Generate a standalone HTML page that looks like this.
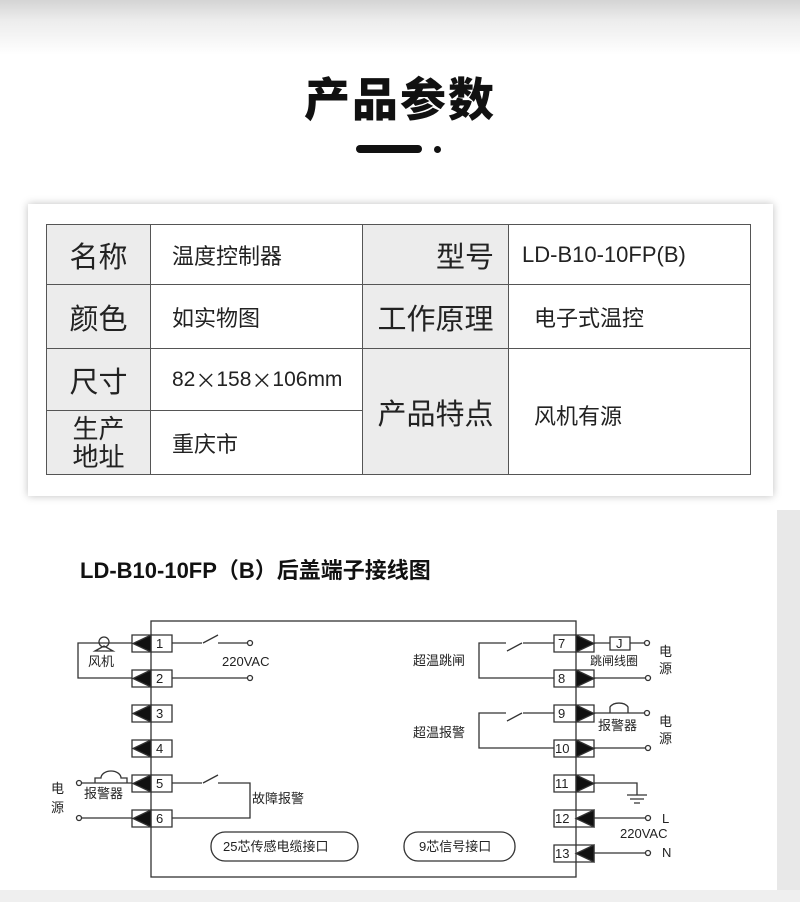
<!DOCTYPE html>
<html><head><meta charset="utf-8"><style>
*{margin:0;padding:0;box-sizing:border-box}
body{width:800px;height:902px;position:relative;overflow:hidden;font-family:"Liberation Sans","Noto Sans CJK SC",sans-serif;background:linear-gradient(#d4d4d4 0px,#ececec 20px,#fff 55px,#fff 100%)}
.a{position:absolute}
.title{left:0;width:800px;top:64px;text-align:center;font-size:46px;font-weight:900;color:#111;letter-spacing:2px}
.card1{left:28px;top:204px;width:745px;height:292px;background:#fff;box-shadow:0 0 8px rgba(0,0,0,.25)}
.c{position:absolute;border:1px solid #555;display:flex;align-items:center;font-size:22px;color:#222}
.g{background:#ececec;font-size:29px;justify-content:center}
.card2{left:28px;top:528px;width:749px;height:362px;background:#fff}
</style></head><body>
<div class="a title">产品参数</div>
<div class="a" style="left:356px;top:145px;width:66px;height:8px;border-radius:4px;background:#111"></div>
<div class="a" style="left:434px;top:146px;width:7px;height:7px;border-radius:50%;background:#111"></div>
<div class="a card1"></div>
<div class="c g" style="left:46px;top:224px;width:105px;height:61px">名称</div>
<div class="c" style="left:150px;top:224px;width:213px;height:61px;padding-left:21px">温度控制器</div>
<div class="c g" style="left:362px;top:224px;width:147px;height:61px;justify-content:flex-end;padding-right:14px">型号</div>
<div class="c" style="left:508px;top:224px;width:243px;height:61px;padding-left:13px">LD-B10-10FP(B)</div>
<div class="c g" style="left:46px;top:284px;width:105px;height:65px">颜色</div>
<div class="c" style="left:150px;top:284px;width:213px;height:65px;padding-left:21px">如实物图</div>
<div class="c g" style="left:362px;top:284px;width:147px;height:65px">工作原理</div>
<div class="c" style="left:508px;top:284px;width:243px;height:65px;padding-left:25px">电子式温控</div>
<div class="c g" style="left:46px;top:348px;width:105px;height:63px">尺寸</div>
<div class="c" style="left:150px;top:348px;width:213px;height:63px;padding-left:21px;font-size:21px">82<span style="font-family:'Noto Sans CJK SC'">×</span>158<span style="font-family:'Noto Sans CJK SC'">×</span>106mm</div>
<div class="c g" style="left:46px;top:410px;width:105px;height:65px;font-size:26px;line-height:28px;text-align:center">生产<br>地址</div>
<div class="c" style="left:150px;top:410px;width:213px;height:65px;padding-left:21px">重庆市</div>
<div class="c g" style="left:362px;top:348px;width:147px;height:127px">产品特点</div>
<div class="c" style="left:508px;top:348px;width:243px;height:127px;padding-left:25px;align-items:flex-start;padding-top:50px">风机有源</div>
<div class="a" style="left:777px;top:510px;width:23px;height:392px;background:#e8e8e8"></div>
<div class="a" style="left:0;top:890px;width:800px;height:12px;background:#efefef"></div>
<div class="a card2"></div>
<div class="a" style="left:80px;top:553px;font-size:22px;font-weight:bold;color:#111">LD-B10-10FP（B）后盖端子接线图</div>
<svg class="a" style="left:0;top:0" width="800" height="902" font-family="Liberation Sans, Noto Sans CJK SC, sans-serif" fill="none" stroke="#333" stroke-width="1.3">
<rect x="151" y="621" width="425" height="256"/>
<g font-size="13" fill="#222" stroke="none">
<text x="156" y="648">1</text><text x="156" y="683">2</text><text x="156" y="718">3</text><text x="156" y="753">4</text><text x="156" y="788">5</text><text x="156" y="823">6</text>
<text x="558" y="648">7</text><text x="558" y="683">8</text><text x="558" y="718">9</text><text x="555" y="753">10</text><text x="555" y="788">11</text><text x="555" y="823">12</text><text x="555" y="858">13</text>
<text x="222" y="666">220VAC</text><text x="88" y="666">风机</text><text x="84" y="798">报警器</text><text x="51" y="793">电</text><text x="51" y="812">源</text>
<text x="252" y="803">故障报警</text><text x="413" y="665">超温跳闸</text><text x="413" y="737">超温报警</text>
<text x="590" y="665" font-size="12">跳闸线圈</text><text x="598" y="730">报警器</text>
<text x="659" y="656">电</text><text x="659" y="673">源</text><text x="659" y="726">电</text><text x="659" y="743">源</text>
<text x="662" y="823">L</text><text x="620" y="838">220VAC</text><text x="662" y="857">N</text>
<text x="223" y="851">25芯传感电缆接口</text><text x="419" y="851">9芯信号接口</text>
<text x="616" y="648">J</text>
</g>
<g fill="#111" stroke="#333">
<path d="M132 635h40v17h-40zM132 670h40v17h-40zM132 705h40v17h-40zM132 740h40v17h-40zM132 775h40v17h-40zM132 810h40v17h-40z" fill="none"/>
<path d="M151 635L133 643.5L151 652zM151 670L133 678.5L151 687zM151 705L133 713.5L151 722zM151 740L133 748.5L151 757zM151 775L133 783.5L151 792zM151 810L133 818.5L151 827z"/>
<path d="M554 635h40v17h-40zM554 670h40v17h-40zM554 705h40v17h-40zM554 740h40v17h-40zM554 775h40v17h-40zM554 810h40v17h-40zM554 845h40v17h-40z" fill="none"/>
<path d="M576 635L594 643.5L576 652zM576 670L594 678.5L576 687zM576 705L594 713.5L576 722zM576 740L594 748.5L576 757zM576 775L594 783.5L576 792zM594 810L576 818.5L594 827zM594 845L576 853.5L594 862z"/>
</g>
<g>
<path d="M132 643H78v35h54M172 643h30M203 643l15-8M218 643h30M172 678h76M172 783h30M203 783l15-8M218 783h32v35H172M81 783h51M81 818h51"/>
<circle cx="250" cy="643" r="2.5"/><circle cx="250" cy="678" r="2.5"/><circle cx="79" cy="783" r="2.5"/><circle cx="79" cy="818" r="2.5"/>
<circle cx="104" cy="642" r="5"/><path d="M95 651l9-5 9 5z"/>
<path d="M95 783v-5h6a10 7 0 0 1 20 0h6v5"/>
<path d="M554 643H523M522 643l-15 8M506 643h-27v35h75M554 713H523M522 713l-15 8M506 713h-27v35h75"/>
<path d="M594 643h16M610 637h20v13h-20zM630 643h14M594 678h52M594 713h50M610 713v-6a10 7 0 0 1 18 0v6M594 748h52M594 783h43v12M627 795h20M630 799h14M634 803h6M594 818h52M594 853h52"/>
<circle cx="647" cy="643" r="2.5"/><circle cx="648" cy="678" r="2.5"/><circle cx="647" cy="713" r="2.5"/><circle cx="648" cy="748" r="2.5"/><circle cx="648" cy="818" r="2.5"/><circle cx="648" cy="853" r="2.5"/>
<rect x="211" y="832" width="147" height="29" rx="14"/><rect x="404" y="832" width="111" height="29" rx="14"/>
</g>
</svg>
</body></html>
